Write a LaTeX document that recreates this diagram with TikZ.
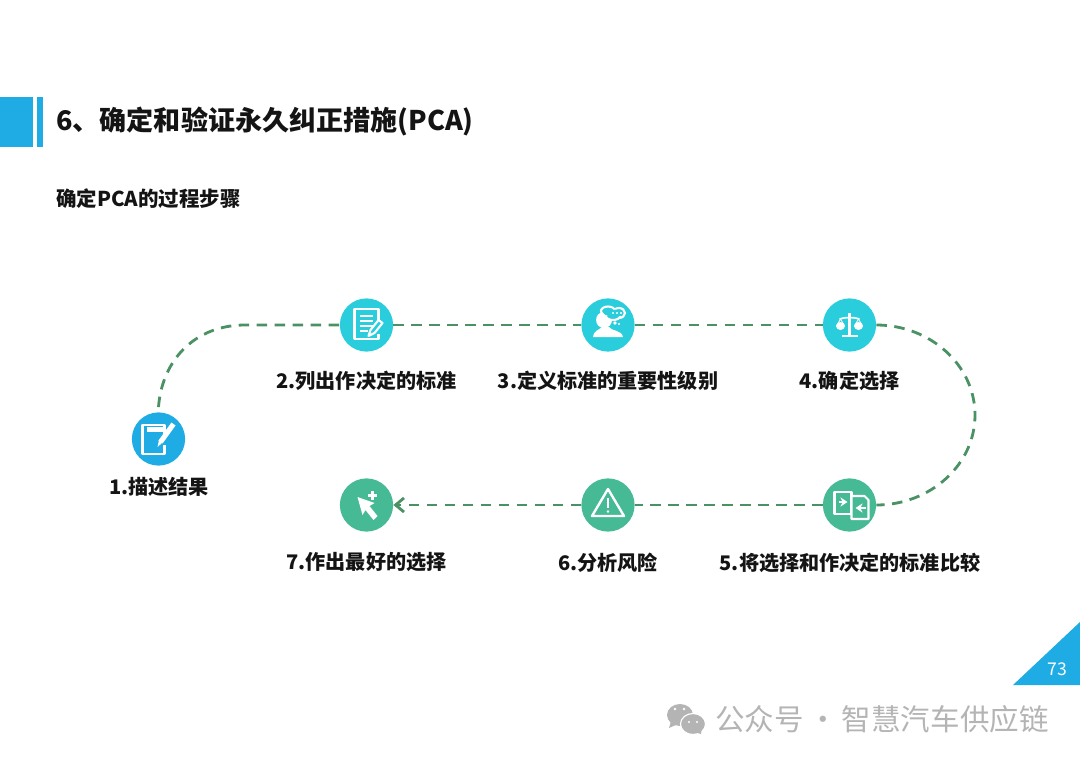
\documentclass[tikz,border=0pt]{standalone}
\usepackage{fontspec}
\setmainfont{Noto Sans CJK SC}
\usetikzlibrary{arrows.meta,positioning,calc}
\definecolor{headblue}{HTML}{1FABE3}
\definecolor{iconteal}{HTML}{29CDDB}
\definecolor{icongreen}{HTML}{46B995}
\definecolor{pathgreen}{HTML}{4A9163}
\definecolor{markgray}{HTML}{B4B4B4}
\tikzset{
  stepicon/.style={circle, inner sep=0pt, minimum size=1.33cm},
  steplabel/.style={font=\bfseries\fontsize{14.3}{17}\selectfont, text=black!92},
  pathline/.style={pathgreen, line width=2pt, dash pattern=on 7.5pt off 5.3pt},
  iconline/.style={white, line width=1.5pt, line join=round},
}
\begin{document}
\begin{tikzpicture}[x=0.025cm,y=-0.025cm]
\useasboundingbox (0,0) rectangle (1080,763);
% page header
\fill[headblue] (0,97) rectangle (33,147);
\fill[headblue] (37,97) rectangle (43,147);
\node[anchor=west, inner sep=0pt, font=\bfseries\fontsize{19.25}{23}\selectfont, text=black!92] (title) at (56,122) {6、确定和验证永久纠正措施(PCA)};
\node[anchor=west, inner sep=0pt, font=\bfseries\fontsize{14.55}{17}\selectfont, text=black!92] (subtitle) at (56,199) {确定PCA的过程步骤};

% step circles
\foreach \n/\x/\y/\col in {stepa/158.5/439/headblue, stepb/366.5/325/iconteal, stepc/608/325/iconteal, stepd/849.5/325/iconteal, stepe/849.5/505/icongreen, stepf/608/505/icongreen, stepg/366.5/505/icongreen}{
  \node[stepicon, fill=\col] (\n) at (\x,\y) {};
}
% step labels
\node[steplabel] (labela) at (159,486.5) {1.描述结果};
\node[steplabel] (labelb) at (366.5,380.5) {2.列出作决定的标准};
\node[steplabel] (labelc) at (608,380.5) {3.定义标准的重要性级别};
\node[steplabel] (labeld) at (849.5,380.5) {4.确定选择};
\node[steplabel] (labele) at (850,562.5) {5.将选择和作决定的标准比较};
\node[steplabel] (labelf) at (608,562.5) {6.分析风险};
\node[steplabel] (labelg) at (366.5,562.5) {7.作出最好的选择};

% dashed route
\draw[pathline] ($(stepa.north)+(0,-5)$) .. controls (162,360) and (195,325) .. (245,325) -- (stepb.west);
\draw[pathline] (stepb) -- (stepc);
\draw[pathline] (stepc) -- (stepd);
\draw[pathline] (stepd.east) .. controls (930,325) and (975,365) .. (975,415) .. controls (975,465) and (930,505) .. (stepe.east);
\draw[pathline] (stepe) -- (stepf);
\draw[pathline, -{Straight Barb[length=6pt,width=10pt]}] (stepf) -- (stepg);

% icon 1: sheet and pencil
\begin{scope}[shift={(stepa.center)}]
  \draw[iconline] (6,-4) -- (6,-14) -- (-16,-14) -- (-16,15) -- (6,15) -- (6,6);
  \fill[white] (-12,-12) rectangle (4,-7);
  \draw[white, line width=3.6pt] (15,-15) -- (2,3);
  \fill[white] (0.5,1) -- (4,3.5) -- (-1,8) -- cycle;
\end{scope}
% icon 2: list and pencil
\begin{scope}[shift={(stepb.center)}]
  \draw[iconline] (12,-4) -- (12,-16) -- (-12,-16) -- (-12,14) -- (12,14) -- (12,9);
  \foreach \i in {-9,-4,1}{
    \draw[iconline] (-7,\i) -- (6,\i);
  }
  \draw[iconline] (-7,6) -- (1,6);
  \draw[iconline] (16,-2) -- (12,-5) -- (4,5) -- (2,11) -- (8,8) -- cycle;
\end{scope}
% icon 3: head with thought cloud
\begin{scope}[shift={(stepc.center)}]
  \fill[white] (-4,-5) circle (8);
  \fill[white] (-15,12) .. controls (-15,6) and (-9,5) .. (-6,2) -- (1,2) .. controls (3,6) and (14,5) .. (15,12) -- cycle;
  \draw[white, line width=1.5pt, fill=iconteal] (0,-14) ellipse (7 and 4.5);
  \draw[white, line width=1.5pt, fill=iconteal] (11,-12) ellipse (6 and 5);
  \draw[white, line width=1.5pt, fill=iconteal] (5,-9) ellipse (7 and 4);
  \fill[iconteal] (1,-13) ellipse (6 and 3.5) (9,-12) ellipse (6 and 3.5);
  \fill[white] (5,-12) circle (1.2) (9,-12) circle (1.2) (13,-12) circle (1.2);
  \fill[white] (7,-2) circle (1.8) (11,-1) circle (1.2);
\end{scope}
% icon 4: scales
\begin{scope}[shift={(stepd.center)}]
  \draw[white, line width=1.7pt] (0,-12) -- (0,10);
  \draw[white, line width=1.7pt] (-8,11) -- (8,11);
  \draw[white, line width=1.2pt] (-10,-6) .. controls (-4,-8) and (4,-8) .. (10,-6);
  \draw[white, line width=0.6pt] (-13,1) -- (-9,-6) -- (-5,1) (5,1) -- (9,-6) -- (13,1);
  \fill[white] (-9,1) ellipse (4.5 and 4);
  \fill[white] (9,1) ellipse (4.5 and 4);
\end{scope}
% icon 5: two sheets with arrows
\begin{scope}[shift={(stepe.center)}]
  \draw[iconline] (-15,-13) -- (2,-13) -- (2,9) -- (-15,9) -- cycle;
  \draw[iconline, fill=icongreen] (2,-9) -- (15,-9) -- (19,-5) -- (19,14) -- (2,14) -- cycle;
  \draw[white, line width=1.8pt, -{Stealth[length=5pt,width=6.5pt]}] (-11,-3) -- (-2,-3);
  \draw[white, line width=1.8pt, -{Stealth[length=5pt,width=6.5pt]}] (16,3) -- (6,3);
\end{scope}
% icon 6: warning triangle
\begin{scope}[shift={(stepf.center)}]
  \draw[white, line width=1.7pt, line join=round] (0,-16) -- (16,11) -- (-16,11) -- cycle;
  \draw[white, line width=1.6pt] (0,-7) -- (0,3);
  \fill[white] (0,6.5) circle (1.3);
\end{scope}
% icon 7: cursor with plus
\begin{scope}[shift={(stepg.center)}]
  \fill[white] (-9,-8) -- (8,-2) -- (3,1) -- (11,11) -- (7,15) -- (-1,5) -- (-4,10) -- cycle;
  \draw[white, line width=1.9pt] (6,-14) -- (6,-5) (1.5,-9.5) -- (10.5,-9.5);
\end{scope}

% page corner
\fill[headblue] (1080,622) -- (1080,685) -- (1013,685) -- cycle;
\node[text=white, inner sep=0pt, font=\fontsize{12.5}{14}\selectfont] (pageno) at (1057,669) {73};

% watermark
\fill[markgray] (680,715) ellipse (13 and 11);
\fill[markgray] (669,728) -- (672,718) -- (678,724) -- cycle;
\draw[white, line width=0.8pt, fill=markgray] (693,724) ellipse (12.5 and 10.5);
\fill[markgray] (701,734) -- (702,726) -- (695,732) -- cycle;
\fill[white] (675,709) circle (1.3) (684,709) circle (1.3) (689,722) circle (1.1) (697,722) circle (1.1);
\node[anchor=west, inner sep=0pt, text=markgray, font=\fontsize{21}{25}\selectfont] (mark) at (715,719) {公众号\hspace{-0.08em} · \hspace{-0.08em}智慧汽车供应链};
\end{tikzpicture}
\end{document}
